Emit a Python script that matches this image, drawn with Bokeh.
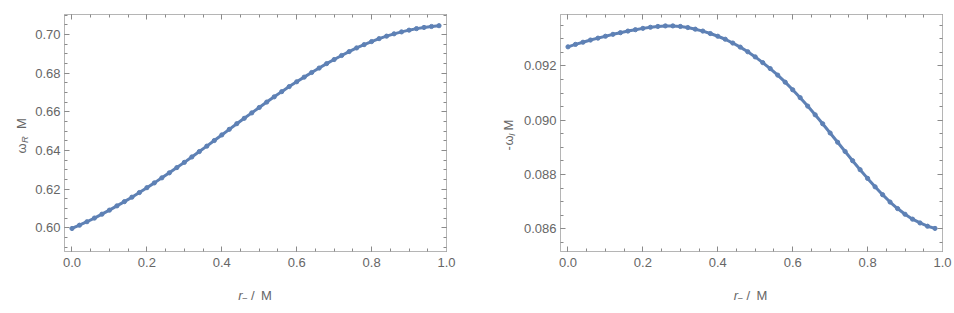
import math
from bokeh.plotting import figure
from bokeh.layouts import row, column
from bokeh.models import SingleIntervalTicker, NumeralTickFormatter, LinearAxis, Label, Range1d
from bokeh.embed import file_html
from bokeh.resources import INLINE

# ---------------- data ----------------
r_minus = [0.00, 0.02, 0.04, 0.06, 0.08, 0.10, 0.12, 0.14, 0.16, 0.18,
           0.20, 0.22, 0.24, 0.26, 0.28, 0.30, 0.32, 0.34, 0.36, 0.38,
           0.40, 0.42, 0.44, 0.46, 0.48, 0.50, 0.52, 0.54, 0.56, 0.58,
           0.60, 0.62, 0.64, 0.66, 0.68, 0.70, 0.72, 0.74, 0.76, 0.78,
           0.80, 0.82, 0.84, 0.86, 0.88, 0.90, 0.92, 0.94, 0.96, 0.98]

omega_R = [0.5996, 0.6013, 0.6031, 0.6050, 0.6070, 0.6091, 0.6113, 0.6135, 0.6158, 0.6182,
           0.6207, 0.6232, 0.6258, 0.6284, 0.6311, 0.6338, 0.6366, 0.6394, 0.6422, 0.6451,
           0.6480, 0.6509, 0.6538, 0.6566, 0.6594, 0.6622, 0.6650, 0.6677, 0.6704, 0.6730,
           0.6755, 0.6779, 0.6803, 0.6826, 0.6849, 0.6870, 0.6891, 0.6911, 0.6930, 0.6947,
           0.6963, 0.6978, 0.6991, 0.7003, 0.7013, 0.7022, 0.7030, 0.7036, 0.7041, 0.7045]

minus_omega_I = [0.09270, 0.09279, 0.09287, 0.09295, 0.09302, 0.09309, 0.09316, 0.09322, 0.09328, 0.09333,
                 0.09338, 0.09342, 0.09345, 0.09347, 0.09347, 0.09345, 0.09341, 0.09335, 0.09328, 0.09319,
                 0.09309, 0.09298, 0.09284, 0.09269, 0.09252, 0.09233, 0.09212, 0.09190, 0.09166, 0.09140,
                 0.09112, 0.09083, 0.09052, 0.09020, 0.08987, 0.08953, 0.08919, 0.08885, 0.08851, 0.08818,
                 0.08786, 0.08755, 0.08726, 0.08699, 0.08675, 0.08654, 0.08636, 0.08622, 0.08610, 0.08602]

# ---------------- style ----------------
BLUE = "#5E81B5"
FRAME = "#b5b5b5"
TICK = "#8a8a8a"
TXT = "#666666"
FONT = "Liberation Sans"
FS = "13px"
TS = "13px"
SUB = "9.5px"
TOP_H = 276
BOT_H = 36


def style_axis(ax, interval, fmt, show):
    ax.ticker = SingleIntervalTicker(interval=interval, num_minor_ticks=4)
    ax.major_tick_in = 5
    ax.major_tick_out = 0
    ax.minor_tick_in = 3
    ax.minor_tick_out = 0
    ax.major_tick_line_color = TICK
    ax.minor_tick_line_color = TICK
    ax.axis_line_color = FRAME
    if show:
        ax.formatter = NumeralTickFormatter(format=fmt)
        ax.major_label_text_font = FONT
        ax.major_label_text_font_size = FS
        ax.major_label_text_color = TXT
    else:
        ax.major_label_text_color = None
        ax.major_label_text_font_size = "0px"
        ax.major_label_standoff = 0


def make_fig(width, left, right, yr, yint, yfmt):
    p = figure(width=width, height=TOP_H, output_backend="svg", toolbar_location=None,
               x_range=Range1d(-0.02, 1.0), y_range=Range1d(*yr),
               min_border_left=left, min_border_right=right,
               min_border_top=14, min_border_bottom=TOP_H - 14 - 237,
               x_axis_location=None, y_axis_location=None)
    p.grid.visible = False
    p.outline_line_color = FRAME
    p.background_fill_color = "white"
    p.border_fill_color = "white"
    bx = LinearAxis(); style_axis(bx, 0.2, "0.0", True); bx.major_label_standoff = 6
    lx = LinearAxis(); style_axis(lx, yint, yfmt, True); lx.major_label_standoff = 4
    tx = LinearAxis(); style_axis(tx, 0.2, "0.0", False)
    rx = LinearAxis(); style_axis(rx, yint, yfmt, False)
    p.add_layout(bx, "below")
    p.add_layout(lx, "left")
    p.add_layout(tx, "above")
    p.add_layout(rx, "right")
    return p


def text_fig(width, height):
    f = figure(width=width, height=height, output_backend="svg", toolbar_location=None,
               x_range=Range1d(0, 1), y_range=Range1d(0, 1),
               min_border=0, x_axis_location=None, y_axis_location=None)
    f.grid.visible = False
    f.outline_line_color = None
    f.background_fill_color = "white"
    f.border_fill_color = "white"
    return f


def lbl(p, x, y, text, size=TS, style="normal", angle=0.0):
    p.add_layout(Label(x=x, y=y, x_units="screen", y_units="screen", text=text,
                       angle=angle, text_font=FONT, text_font_size=size,
                       text_font_style=style, text_color=TXT,
                       text_align="left", text_baseline="alphabetic"))


# ---- plot panels ----
p1 = make_fig(446, 29, 32, (0.5877, 0.7103), 0.02, "0.00")
p1.line(r_minus, omega_R, line_width=3, color=BLUE)
p1.scatter(r_minus, omega_R, size=4.2, color=BLUE)

p2 = make_fig(434, 37, 12, (0.08517, 0.09389), 0.002, "0.000")
p2.line(r_minus, minus_omega_I, line_width=3, color=BLUE)
p2.scatter(r_minus, minus_omega_I, size=4.2, color=BLUE)

# ---- y-axis titles (rotated, with subscripts) ----
A = math.pi / 2
ylab1 = text_fig(32, TOP_H)
bx1 = 20.7
lbl(ylab1, bx1, 98, "\u03c9", angle=A)
lbl(ylab1, bx1 + 3, 108.5, "R", size=SUB, style="italic", angle=A)
lbl(ylab1, bx1, 122.5, "M", angle=A)

ylab2 = text_fig(42, TOP_H)
bx2 = 30
lbl(ylab2, bx2, 101, "-", angle=A)
lbl(ylab2, bx2, 106, "\u03c9", angle=A)
lbl(ylab2, bx2 + 3, 115.5, "I", size=SUB, style="italic", angle=A)
lbl(ylab2, bx2, 121, "M", angle=A)

# ---- x-axis titles ----
xlab1 = text_fig(478, BOT_H)
xlab2 = text_fig(476, BOT_H)
for f, x0 in ((xlab1, 237.7), (xlab2, 255.2)):
    lbl(f, x0, 17, "r", style="italic")
    lbl(f, x0 + 3.8, 14, "\u2212", size=SUB)
    lbl(f, x0 + 12.8, 17, "/")
    lbl(f, x0 + 22.8, 17, "M")

layout = column(row(ylab1, p1, ylab2, p2, spacing=0),
                row(xlab1, xlab2, spacing=0), spacing=0)
open("out.html", "w").write(file_html(layout, INLINE))
